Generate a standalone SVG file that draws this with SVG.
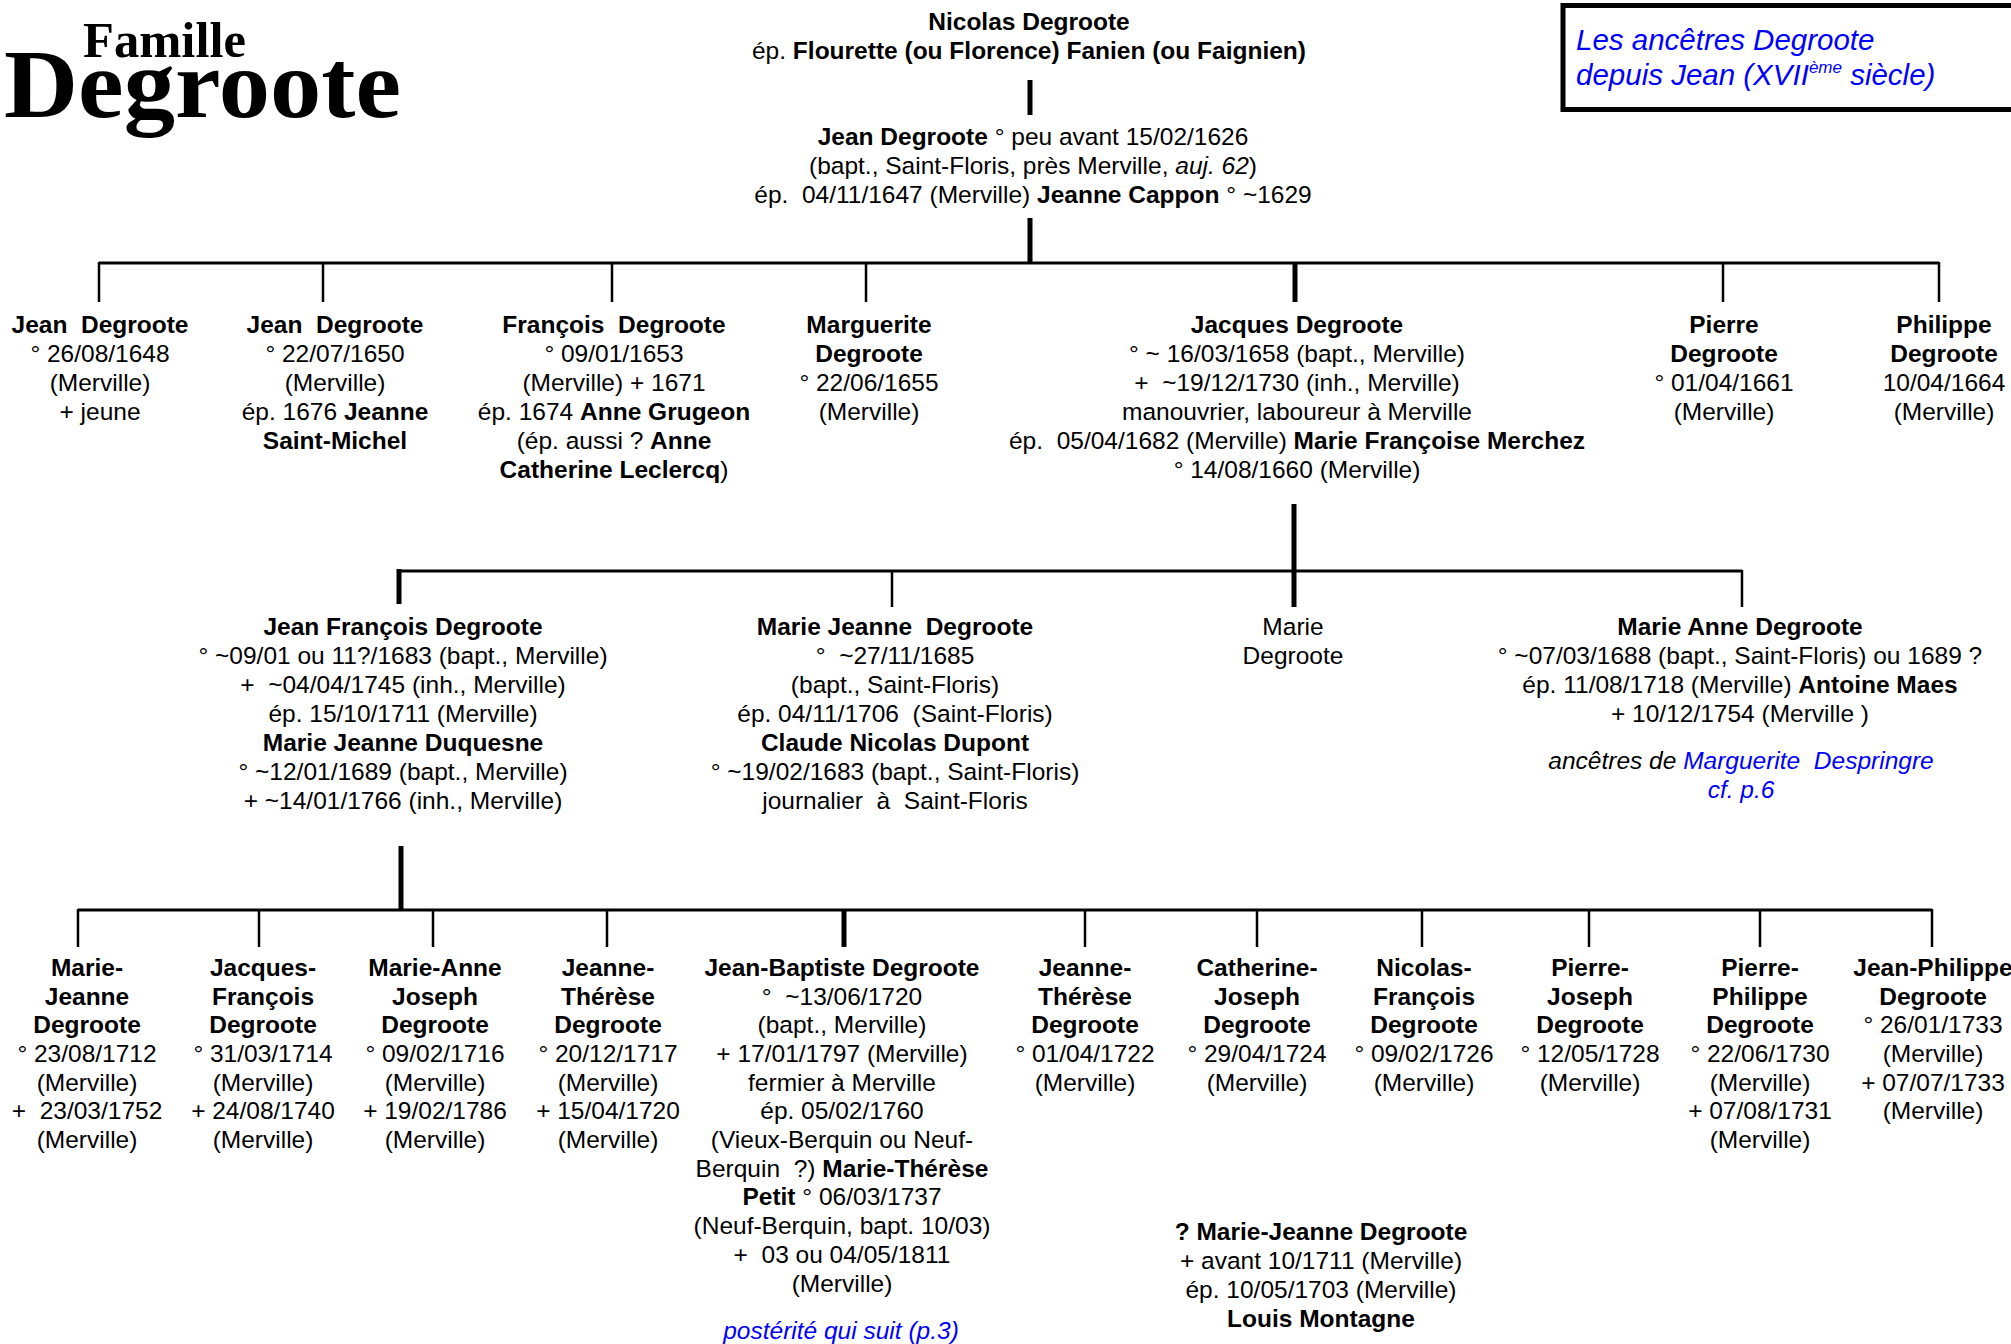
<svg xmlns="http://www.w3.org/2000/svg" width="2011" height="1344" viewBox="0 0 2011 1344">
<style>
text{font-family:"Liberation Sans",Arial,sans-serif;font-size:24.5px;fill:#000;text-anchor:middle}
.b{font-weight:bold}
.i{font-style:italic}
.blue{fill:#0000ff}
.title{font-family:"Liberation Serif","Times New Roman",serif;font-weight:bold;text-anchor:start}
.legend{font-size:29.5px;text-anchor:start}
.thin{stroke:#000;stroke-width:2.5;fill:none}
.hz{stroke:#000;stroke-width:3;fill:none}
.thick{stroke:#000;stroke-width:5;fill:none}
</style>
<rect width="2011" height="1344" fill="#fff"/>

<g id="title">
<text class="title" x="83" y="57" style="font-size:50px" textLength="163" lengthAdjust="spacingAndGlyphs">Famille</text>
<text class="title" x="4" y="117" style="font-size:98px" textLength="397" lengthAdjust="spacingAndGlyphs">Degroote</text>
</g>

<g id="legend">
<rect x="1563" y="5.5" width="460" height="104" fill="none" stroke="#000" stroke-width="5"/>
<text class="legend i blue" x="1576" y="50">Les ancêtres Degroote</text>
<text class="legend i blue" x="1576" y="85">depuis Jean (XVII<tspan style="font-size:17px" dy="-12">ème</tspan><tspan dy="12"> siècle)</tspan></text>
</g>

<g id="connectors">
<line class="thick" x1="1030" y1="80" x2="1030" y2="115"/>
<line class="thick" x1="1030" y1="218" x2="1030" y2="263"/>
<line class="hz" x1="99" y1="263" x2="1939" y2="263"/>
<line class="thin" x1="99" y1="262" x2="99" y2="302"/>
<line class="thin" x1="323" y1="263" x2="323" y2="302"/>
<line class="thin" x1="612" y1="263" x2="612" y2="302"/>
<line class="thin" x1="866" y1="263" x2="866" y2="302"/>
<line class="thick" x1="1295" y1="263" x2="1295" y2="302"/>
<line class="thin" x1="1723" y1="263" x2="1723" y2="302"/>
<line class="thin" x1="1939" y1="262" x2="1939" y2="302"/>

<line class="thick" x1="1294" y1="504" x2="1294" y2="607"/>
<line class="hz" x1="399" y1="571" x2="1742" y2="571"/>
<line class="thick" x1="399" y1="569" x2="399" y2="604"/>
<line class="thin" x1="892" y1="571" x2="892" y2="607"/>
<line class="thin" x1="1742" y1="570" x2="1742" y2="607"/>

<line class="thick" x1="401" y1="846" x2="401" y2="910"/>
<line class="hz" x1="78" y1="910" x2="1932" y2="910"/>
<line class="thin" x1="78" y1="909" x2="78" y2="947"/>
<line class="thin" x1="259" y1="910" x2="259" y2="947"/>
<line class="thin" x1="433" y1="910" x2="433" y2="947"/>
<line class="thin" x1="607" y1="910" x2="607" y2="947"/>
<line class="thick" x1="844" y1="910" x2="844" y2="947"/>
<line class="thin" x1="1085" y1="910" x2="1085" y2="947"/>
<line class="thin" x1="1257" y1="910" x2="1257" y2="947"/>
<line class="thin" x1="1422" y1="910" x2="1422" y2="947"/>
<line class="thin" x1="1589" y1="910" x2="1589" y2="947"/>
<line class="thin" x1="1760" y1="910" x2="1760" y2="947"/>
<line class="thin" x1="1932" y1="909" x2="1932" y2="947"/>
</g>

<g id="nicolas">
<text x="1029" y="30" class="b">Nicolas Degroote</text>
<text x="1029" y="59">ép. <tspan class="b">Flourette (ou Florence) Fanien (ou Faignien)</tspan></text>
</g>

<g id="jean">
<text x="1033" y="145"><tspan class="b">Jean Degroote</tspan> ° peu avant 15/02/1626</text>
<text x="1033" y="174">(bapt., Saint-Floris, près Merville, <tspan class="i">auj. 62</tspan>)</text>
<text x="1033" y="203" xml:space="preserve">ép.  04/11/1647 (Merville) <tspan class="b">Jeanne Cappon</tspan> ° ~1629</text>
</g>

<g id="jean1">
<text x="100" y="333" class="b" xml:space="preserve">Jean  Degroote</text>
<text x="100" y="362">° 26/08/1648</text>
<text x="100" y="391">(Merville)</text>
<text x="100" y="420">+ jeune</text>
</g>

<g id="jean2">
<text x="335" y="333" class="b" xml:space="preserve">Jean  Degroote</text>
<text x="335" y="362">° 22/07/1650</text>
<text x="335" y="391">(Merville)</text>
<text x="335" y="420">ép. 1676 <tspan class="b">Jeanne</tspan></text>
<text x="335" y="449" class="b">Saint-Michel</text>
</g>

<g id="francois">
<text x="614" y="333" class="b" xml:space="preserve">François  Degroote</text>
<text x="614" y="362">° 09/01/1653</text>
<text x="614" y="391">(Merville) + 1671</text>
<text x="614" y="420">ép. 1674 <tspan class="b">Anne Grugeon</tspan></text>
<text x="614" y="449">(ép. aussi ? <tspan class="b">Anne</tspan></text>
<text x="614" y="478"><tspan class="b">Catherine Leclercq</tspan>)</text>
</g>

<g id="marguerite">
<text x="869" y="333" class="b">Marguerite</text>
<text x="869" y="362" class="b">Degroote</text>
<text x="869" y="391">° 22/06/1655</text>
<text x="869" y="420">(Merville)</text>
</g>

<g id="jacques">
<text x="1297" y="333" class="b">Jacques Degroote</text>
<text x="1297" y="362">° ~ 16/03/1658 (bapt., Merville)</text>
<text x="1297" y="391" xml:space="preserve">+  ~19/12/1730 (inh., Merville)</text>
<text x="1297" y="420">manouvrier, laboureur à Merville</text>
<text x="1297" y="449" xml:space="preserve">ép.  05/04/1682 (Merville) <tspan class="b">Marie Françoise Merchez</tspan></text>
<text x="1297" y="478">° 14/08/1660 (Merville)</text>
</g>

<g id="pierre">
<text x="1724" y="333" class="b">Pierre</text>
<text x="1724" y="362" class="b">Degroote</text>
<text x="1724" y="391">° 01/04/1661</text>
<text x="1724" y="420">(Merville)</text>
</g>

<g id="philippe">
<text x="1944" y="333" class="b">Philippe</text>
<text x="1944" y="362" class="b">Degroote</text>
<text x="1944" y="391">10/04/1664</text>
<text x="1944" y="420">(Merville)</text>
</g>

<g id="jeanfrancois">
<text x="403" y="635" class="b">Jean François Degroote</text>
<text x="403" y="664">° ~09/01 ou 11?/1683 (bapt., Merville)</text>
<text x="403" y="693" xml:space="preserve">+  ~04/04/1745 (inh., Merville)</text>
<text x="403" y="722">ép. 15/10/1711 (Merville)</text>
<text x="403" y="751" class="b">Marie Jeanne Duquesne</text>
<text x="403" y="780">° ~12/01/1689 (bapt., Merville)</text>
<text x="403" y="809">+ ~14/01/1766 (inh., Merville)</text>
</g>

<g id="mariejeanne">
<text x="895" y="635" class="b" xml:space="preserve">Marie Jeanne  Degroote</text>
<text x="895" y="664" xml:space="preserve">°  ~27/11/1685</text>
<text x="895" y="693">(bapt., Saint-Floris)</text>
<text x="895" y="722" xml:space="preserve">ép. 04/11/1706  (Saint-Floris)</text>
<text x="895" y="751" class="b">Claude Nicolas Dupont</text>
<text x="895" y="780">° ~19/02/1683 (bapt., Saint-Floris)</text>
<text x="895" y="809" xml:space="preserve">journalier  à  Saint-Floris</text>
</g>

<g id="marie">
<text x="1293" y="635">Marie</text>
<text x="1293" y="664">Degroote</text>
</g>

<g id="marieanne">
<text x="1740" y="635" class="b">Marie Anne Degroote</text>
<text x="1740" y="664">° ~07/03/1688 (bapt., Saint-Floris) ou 1689 ?</text>
<text x="1740" y="693">ép. 11/08/1718 (Merville) <tspan class="b">Antoine Maes</tspan></text>
<text x="1740" y="722">+ 10/12/1754 (Merville )</text>
<text x="1741" y="769" class="i" xml:space="preserve">ancêtres de <tspan class="blue">Marguerite  Despringre</tspan></text>
<text x="1741" y="798" class="i blue">cf. p.6</text>
</g>

<g id="g3-mariejeanne">
<text x="87" y="976" class="b">Marie-</text>
<text x="87" y="1005" class="b">Jeanne</text>
<text x="87" y="1033" class="b">Degroote</text>
<text x="87" y="1062">° 23/08/1712</text>
<text x="87" y="1091">(Merville)</text>
<text x="87" y="1119" xml:space="preserve">+  23/03/1752</text>
<text x="87" y="1148">(Merville)</text>
</g>

<g id="g3-jacquesfrancois">
<text x="263" y="976" class="b">Jacques-</text>
<text x="263" y="1005" class="b">François</text>
<text x="263" y="1033" class="b">Degroote</text>
<text x="263" y="1062">° 31/03/1714</text>
<text x="263" y="1091">(Merville)</text>
<text x="263" y="1119">+ 24/08/1740</text>
<text x="263" y="1148">(Merville)</text>
</g>

<g id="g3-marieanne">
<text x="435" y="976" class="b">Marie-Anne</text>
<text x="435" y="1005" class="b">Joseph</text>
<text x="435" y="1033" class="b">Degroote</text>
<text x="435" y="1062">° 09/02/1716</text>
<text x="435" y="1091">(Merville)</text>
<text x="435" y="1119">+ 19/02/1786</text>
<text x="435" y="1148">(Merville)</text>
</g>

<g id="g3-jeannetherese1">
<text x="608" y="976" class="b">Jeanne-</text>
<text x="608" y="1005" class="b">Thérèse</text>
<text x="608" y="1033" class="b">Degroote</text>
<text x="608" y="1062">° 20/12/1717</text>
<text x="608" y="1091">(Merville)</text>
<text x="608" y="1119">+ 15/04/1720</text>
<text x="608" y="1148">(Merville)</text>
</g>

<g id="g3-jeanbaptiste">
<text x="842" y="976" class="b">Jean-Baptiste Degroote</text>
<text x="842" y="1005" xml:space="preserve">°  ~13/06/1720</text>
<text x="842" y="1033">(bapt., Merville)</text>
<text x="842" y="1062">+ 17/01/1797 (Merville)</text>
<text x="842" y="1091">fermier à Merville</text>
<text x="842" y="1119">ép. 05/02/1760</text>
<text x="842" y="1148">(Vieux-Berquin ou Neuf-</text>
<text x="842" y="1177" xml:space="preserve">Berquin  ?) <tspan class="b">Marie-Thérèse</tspan></text>
<text x="842" y="1205"><tspan class="b">Petit</tspan> ° 06/03/1737</text>
<text x="842" y="1234">(Neuf-Berquin, bapt. 10/03)</text>
<text x="842" y="1263" xml:space="preserve">+  03 ou 04/05/1811</text>
<text x="842" y="1292">(Merville)</text>
<text x="841" y="1339" class="i blue">postérité qui suit (p.3)</text>
</g>

<g id="g3-jeannetherese2">
<text x="1085" y="976" class="b">Jeanne-</text>
<text x="1085" y="1005" class="b">Thérèse</text>
<text x="1085" y="1033" class="b">Degroote</text>
<text x="1085" y="1062">° 01/04/1722</text>
<text x="1085" y="1091">(Merville)</text>
</g>

<g id="g3-catherine">
<text x="1257" y="976" class="b">Catherine-</text>
<text x="1257" y="1005" class="b">Joseph</text>
<text x="1257" y="1033" class="b">Degroote</text>
<text x="1257" y="1062">° 29/04/1724</text>
<text x="1257" y="1091">(Merville)</text>
</g>

<g id="g3-nicolas">
<text x="1424" y="976" class="b">Nicolas-</text>
<text x="1424" y="1005" class="b">François</text>
<text x="1424" y="1033" class="b">Degroote</text>
<text x="1424" y="1062">° 09/02/1726</text>
<text x="1424" y="1091">(Merville)</text>
</g>

<g id="g3-pierrejoseph">
<text x="1590" y="976" class="b">Pierre-</text>
<text x="1590" y="1005" class="b">Joseph</text>
<text x="1590" y="1033" class="b">Degroote</text>
<text x="1590" y="1062">° 12/05/1728</text>
<text x="1590" y="1091">(Merville)</text>
</g>

<g id="g3-pierrephilippe">
<text x="1760" y="976" class="b">Pierre-</text>
<text x="1760" y="1005" class="b">Philippe</text>
<text x="1760" y="1033" class="b">Degroote</text>
<text x="1760" y="1062">° 22/06/1730</text>
<text x="1760" y="1091">(Merville)</text>
<text x="1760" y="1119">+ 07/08/1731</text>
<text x="1760" y="1148">(Merville)</text>
</g>

<g id="g3-jeanphilippe">
<text x="1933" y="976" class="b">Jean-Philippe</text>
<text x="1933" y="1005" class="b">Degroote</text>
<text x="1933" y="1033">° 26/01/1733</text>
<text x="1933" y="1062">(Merville)</text>
<text x="1933" y="1091">+ 07/07/1733</text>
<text x="1933" y="1119">(Merville)</text>
</g>

<g id="marie-jeanne-montagne">
<text x="1321" y="1240" class="b">? Marie-Jeanne Degroote</text>
<text x="1321" y="1269">+ avant 10/1711 (Merville)</text>
<text x="1321" y="1298">ép. 10/05/1703 (Merville)</text>
<text x="1321" y="1327" class="b">Louis Montagne</text>
</g>
</svg>
